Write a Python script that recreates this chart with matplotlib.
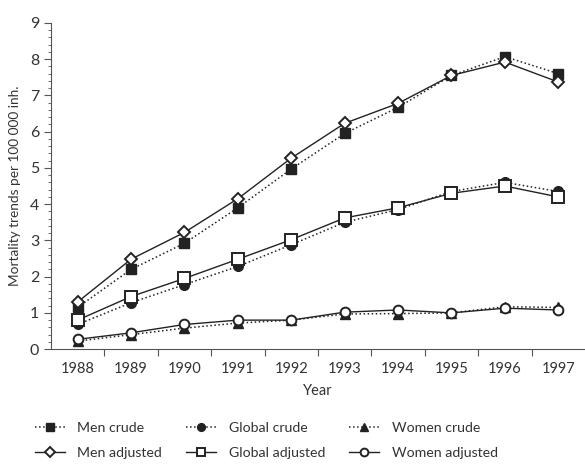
import matplotlib
matplotlib.use('Agg')
import matplotlib.pyplot as plt
from matplotlib.ticker import MultipleLocator

years = ['1988', '1989', '1990', '1991', '1992', '1993', '1994', '1995', '1996', '1997']

men_crude = [1.15, 2.2, 2.92, 3.9, 4.97, 5.95, 6.67, 7.55, 8.07, 7.6]
men_adjusted = [1.3, 2.48, 3.22, 4.15, 5.27, 6.23, 6.78, 7.55, 7.92, 7.37]
global_crude = [0.68, 1.28, 1.78, 2.28, 2.88, 3.5, 3.85, 4.35, 4.6, 4.35]
global_adjusted = [0.8, 1.45, 1.95, 2.48, 3.02, 3.62, 3.9, 4.3, 4.5, 4.2]
women_crude = [0.22, 0.4, 0.58, 0.72, 0.8, 0.97, 0.98, 1.0, 1.17, 1.15]
women_adjusted = [0.27, 0.45, 0.68, 0.8, 0.8, 1.02, 1.08, 1.0, 1.13, 1.08]

plt.rcParams['font.family'] = ['Lato', 'DejaVu Sans']
ink = '#222222'
text_col = '#333333'
axis_col = '#555555'

fig = plt.figure(figsize=(5.85, 4.68), dpi=100)
ax = fig.add_axes([0.087, 0.254, 0.913, 0.697])

x = list(range(len(years)))
crude = dict(color=ink, linestyle=':', linewidth=1.1, markerfacecolor=ink,
             markeredgecolor=ink)
adj = dict(color=ink, linestyle='-', linewidth=1.0, markerfacecolor='white',
           markeredgecolor=ink, markeredgewidth=1.4)

h_mc, = ax.plot(x, men_crude, marker='s', markersize=7, label='Men crude', **crude)
h_gc, = ax.plot(x, global_crude, marker='o', markersize=7, label='Global crude', **crude)
h_wc, = ax.plot(x, women_crude, marker='^', markersize=7, label='Women crude', **crude)
h_ma, = ax.plot(x, men_adjusted, marker='D', markersize=6.5, label='Men adjusted', **adj)
h_ga, = ax.plot(x, global_adjusted, marker='s', markersize=8, label='Global adjusted', **adj)
h_wa, = ax.plot(x, women_adjusted, marker='o', markersize=7, label='Women adjusted', **adj)

ax.set_xlim(-0.5, len(years) - 0.5)
ax.set_ylim(0, 9)
ax.set_xticks([i + 0.5 for i in x[:-1]])
ax.set_xticklabels([])
ax.set_xticks(x, minor=True)
ax.set_xticklabels(years, minor=True)
ax.tick_params(axis='x', which='minor', length=0, labelsize=10.5, colors=text_col, pad=9)
ax.tick_params(axis='x', which='major', length=5, direction='out', color=axis_col)
ax.yaxis.set_major_locator(MultipleLocator(1))
ax.yaxis.set_minor_locator(MultipleLocator(0.2))
ax.tick_params(axis='y', which='major', length=5, direction='out', labelsize=11.5,
               colors=text_col, color=axis_col)
ax.tick_params(axis='y', which='minor', length=2.5, direction='out', color=axis_col)

for s in ['top', 'right']:
    ax.spines[s].set_visible(False)
for s in ['left', 'bottom']:
    ax.spines[s].set_color(axis_col)

ax.set_xlabel('Year', fontsize=10.5, color=text_col, labelpad=6)
ax.set_ylabel('Mortality trends per 100 000 inh.', fontsize=9.8, color=text_col, labelpad=6)

handles = [h_mc, h_ma, h_gc, h_ga, h_wc, h_wa]
fig.legend(handles=handles, labels=[h.get_label() for h in handles], ncol=3,
           loc='lower center', bbox_to_anchor=(0.455, -0.008), frameon=False,
           fontsize=10.2, labelcolor=text_col, columnspacing=1.7, handlelength=2.1,
           handletextpad=0.9, labelspacing=0.95, markerscale=0.8)

fig.savefig('out.png', dpi=100)
